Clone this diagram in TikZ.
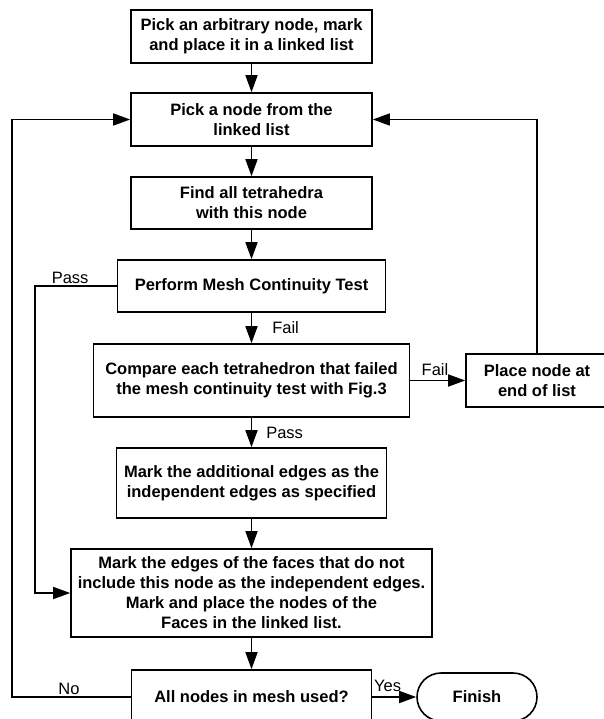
\documentclass[tikz,border=0pt]{standalone}
\usepackage{fontspec}
\setmainfont{Liberation Sans}
\usetikzlibrary{arrows.meta}
\tikzset{
	stepbox/.style={draw, line width=1.6pt, align=center, inner sep=0pt,
		font=\bfseries\fontsize{16.5}{20}\selectfont},
	endbox/.style={stepbox, rounded corners=24pt},
	flow/.style={line width=1.5pt, -{Triangle[length=17pt,width=12pt]}},
	lbl/.style={font=\fontsize{16.5}{20}\selectfont, inner sep=2pt}
}
\begin{document}
\begin{tikzpicture}[x=1pt, y=-1pt, line join=miter]
	\def\xm{251.5}
	\useasboundingbox (0,0) rectangle (604,719);
	\clip (0,0) rectangle (604,719);
	\node[stepbox, minimum width=241pt, minimum height=53pt] (pick) at (\xm,36.5) {Pick an arbitrary node, mark\\and place it in a linked list};
	\node[stepbox, minimum width=241pt, minimum height=53pt] (take) at (\xm,119.5) {Pick a node from the\\linked list};
	\node[stepbox, minimum width=241pt, minimum height=52pt] (find) at (\xm,203) {Find all tetrahedra\\with this node};
	\node[stepbox, minimum width=268pt, minimum height=52pt] (test) at (\xm,286) {Perform Mesh Continuity Test};
	\node[stepbox, minimum width=316pt, minimum height=73pt] (compare) at (\xm,380.5) {Compare each tetrahedron that failed\\the mesh continuity test with Fig.3};
	\node[stepbox, minimum width=142pt, minimum height=53pt] (place) at (537,380.5) {Place node at\\end of list};
	\node[stepbox, minimum width=270pt, minimum height=70pt] (extra) at (\xm,483) {Mark the additional edges as the\\independent edges as specified};
	\node[stepbox, minimum width=361pt, minimum height=88pt] (faces) at (\xm,593) {Mark the edges of the faces that do not\\include this node as the independent edges.\\Mark and place the nodes of the\\Faces in the linked list.};
	\node[stepbox, minimum width=240pt, minimum height=54pt] (used) at (\xm,697) {All nodes in mesh used?};
	\node[endbox, minimum width=120pt, minimum height=48pt] (finish) at (477,697) {Finish};
	\coordinate (passc) at (35,286);
	\coordinate (noc) at (12,697);
	\draw[flow] (pick) -- (take);
	\draw[flow] (take) -- (find);
	\draw[flow] (find) -- (test);
	\draw[flow] (test) -- node[lbl, right=18pt]{Fail} (compare);
	\draw[flow] (compare) -- node[lbl, right=12pt]{Pass} (extra);
	\draw[flow] (extra) -- (faces);
	\draw[flow] (faces) -- (used);
	\draw[flow] (compare) -- node[lbl, above=2pt, pos=0.45]{Fail} (place);
	\draw[flow] (place.north) |- (take.east);
	\draw[flow] (test.west) -- node[lbl, above, pos=0.57]{Pass} (passc) |- (faces.west);
	\draw[flow] (used.west) -- node[lbl, above, pos=0.52]{No} (noc) |- (take.west);
	\draw[flow] (used.east) -- node[lbl, above=3pt, pos=0.35]{Yes} (finish.west);
\end{tikzpicture}
\end{document}
